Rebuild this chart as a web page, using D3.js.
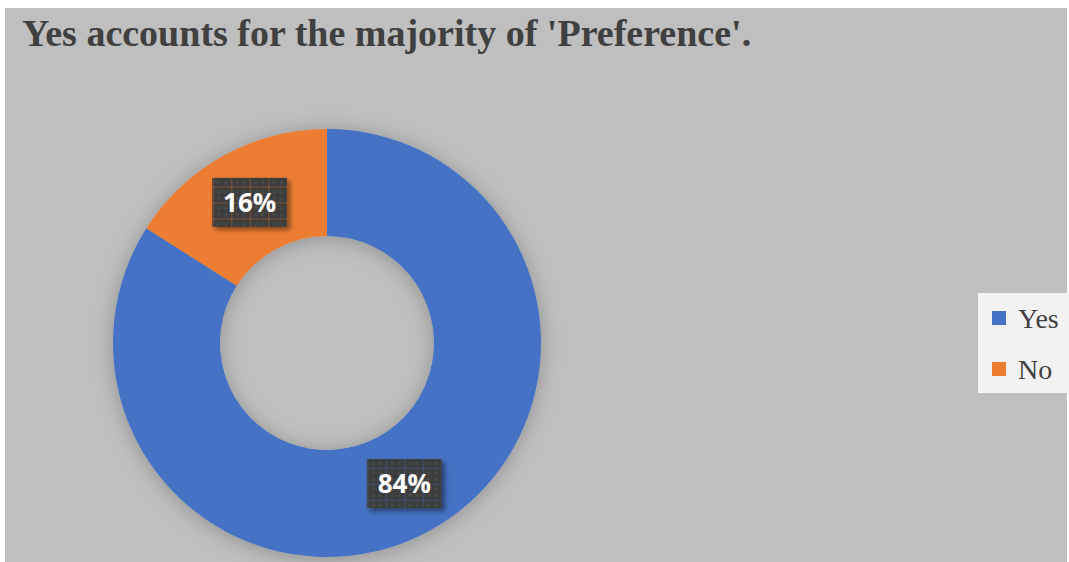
<!DOCTYPE html>
<html>
<head>
<meta charset="utf-8">
<script src="https://cdn.jsdelivr.net/npm/d3@7"></script>
<style>
  html, body { margin: 0; padding: 0; background: #ffffff; }
  svg { display: block; }
</style>
</head>
<body>
<svg id="chart" width="1069" height="562"></svg>
<script>
// Preference split
const categories = ["Yes", "No"];
const shares = [84, 16];
const colors = ["#4472c4", "#ed7d31"];
const titleText = "Yes accounts for the majority of 'Preference'.";

const svg = d3.select("#chart");
const W = 1069, H = 562;

// Chart area panel
svg.append("rect")
  .attr("x", 5).attr("y", 8)
  .attr("width", W - 7).attr("height", H - 8)
  .attr("fill", "#bfbfbf");

const defs = svg.append("defs");

// Soft shadow around the ring
const ringShadow = defs.append("filter").attr("id", "ringShadow")
  .attr("x", "-20%").attr("y", "-20%").attr("width", "140%").attr("height", "140%");
ringShadow.append("feDropShadow")
  .attr("dx", 0).attr("dy", 2).attr("stdDeviation", 10)
  .attr("flood-color", "#000").attr("flood-opacity", 0.25);

// Drop shadow for data labels
const labelShadow = defs.append("filter").attr("id", "labelShadow")
  .attr("x", "-30%").attr("y", "-30%").attr("width", "160%").attr("height", "160%");
labelShadow.append("feDropShadow")
  .attr("dx", 3).attr("dy", 3).attr("stdDeviation", 2.5)
  .attr("flood-color", "#000").attr("flood-opacity", 0.45);

// Dotted-grid fill for the label boxes, tinted by the slice underneath
categories.forEach((c, i) => {
  const p = defs.append("pattern")
    .attr("id", "grid" + i)
    .attr("patternUnits", "userSpaceOnUse")
    .attr("width", 18.5).attr("height", 16);
  p.append("rect").attr("width", 18.5).attr("height", 16).attr("fill", "#3e3e3e");
  p.append("rect").attr("x", 0).attr("y", 0).attr("width", 18.5).attr("height", 1.2)
    .attr("fill", colors[i]).attr("opacity", 0.3);
  p.append("rect").attr("x", 0).attr("y", 0).attr("width", 1.2).attr("height", 16)
    .attr("fill", colors[i]).attr("opacity", 0.3);
  [[5, 4.5], [12, 4.5], [5, 11], [12, 11]].forEach(([x, y]) => {
    p.append("circle").attr("cx", x + 1).attr("cy", y + 1).attr("r", 1.6)
      .attr("fill", "#4a4a4a");
  });
});

// Title
svg.append("text")
  .attr("x", 22).attr("y", 46)
  .attr("font-family", "'Liberation Serif', 'Times New Roman', serif")
  .attr("font-weight", "bold")
  .attr("font-size", 38)
  .attr("fill", "#404040")
  .text(titleText);

// Donut
const cx = 327, cy = 343;
const outerR = 214, innerR = 107;

const pie = d3.pie().sort(null).value(d => d.value);
const data = categories.map((c, i) => ({ name: c, value: shares[i], color: colors[i] }));
const arcs = pie(data);
const arc = d3.arc().innerRadius(innerR).outerRadius(outerR);

const g = svg.append("g").attr("transform", `translate(${cx},${cy})`);
g.append("g").attr("filter", "url(#ringShadow)")
  .selectAll("path")
  .data(arcs)
  .join("path")
  .attr("d", arc)
  .attr("fill", d => d.data.color);

// Data labels at slice centroids
const total = d3.sum(shares);
const fmt = v => Math.round(v / total * 100) + "%";
const labels = g.selectAll("g.lbl")
  .data(arcs)
  .join("g")
  .attr("class", "lbl")
  .attr("transform", d => `translate(${arc.centroid(d)})`);

const boxW = 75, boxH = 49;
labels.append("rect")
  .attr("x", -boxW / 2).attr("y", -boxH / 2)
  .attr("width", boxW).attr("height", boxH)
  .attr("fill", (d, i) => `url(#grid${i})`)
  .attr("filter", "url(#labelShadow)");
labels.append("text")
  .attr("text-anchor", "middle")
  .attr("dy", "0.36em")
  .attr("font-family", "'Open Sans', 'Noto Sans', sans-serif")
  .attr("font-weight", "bold")
  .attr("font-size", 26)
  .attr("fill", "#ffffff")
  .text(d => fmt(d.data.value));

// Legend
const legend = svg.append("g");
legend.append("rect")
  .attr("x", 978).attr("y", 293)
  .attr("width", 95).attr("height", 100)
  .attr("fill", "#f2f2f2");

const ly = d3.scalePoint().domain(categories).range([318, 369]);
const items = legend.selectAll("g.item")
  .data(data)
  .join("g")
  .attr("class", "item")
  .attr("transform", d => `translate(992,${ly(d.name)})`);
items.append("rect")
  .attr("x", 0).attr("y", -7)
  .attr("width", 14).attr("height", 14)
  .attr("fill", d => d.color);
items.append("text")
  .attr("x", 26).attr("dy", "0.34em")
  .attr("font-family", "'Liberation Serif', 'Times New Roman', serif")
  .attr("font-size", 28)
  .attr("fill", "#404040")
  .text(d => d.name);
</script>
</body>
</html>
